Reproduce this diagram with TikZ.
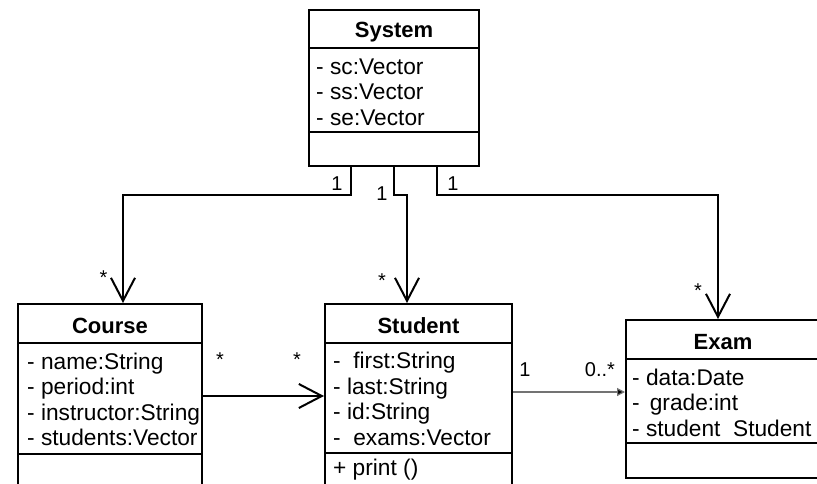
\documentclass[tikz,border=0pt]{standalone}
\usepackage{fontspec}
\setmainfont{Liberation Sans}
\usetikzlibrary{arrows.meta}

\newcommand\clsfont{\fontsize{22}{26}\selectfont\bfseries}
\newcommand\attrfont{\fontsize{22.7}{26}\selectfont}
\newcommand\multfont{\fontsize{20}{23}\selectfont}

\tikzset{
  classbox/.style={draw, line width=2pt, inner sep=0pt, fill=white},
  sepline/.style={line width=2pt},
  clsname/.style={font=\clsfont, inner sep=0pt, anchor=base},
  attr/.style={font=\attrfont, inner sep=0pt, anchor=base west},
  mult/.style={font=\multfont, inner sep=0pt, anchor=base},
  assoc/.style={line width=2pt, -{Straight Barb[length=23pt,width=24pt,line width=2pt]}},
  navig/.style={line width=1.2pt, draw=black!55, -{Triangle[length=8pt,width=8pt,fill=black]}},
}

\begin{document}
\begin{tikzpicture}[x=1pt,y=-1pt]
  \useasboundingbox (0,0) rectangle (817,483);
  \fill[white] (0,0) rectangle (817,483);
  \clip (0,0) rectangle (817,483);

  % --- System ---
  \node[classbox, minimum width=170pt, minimum height=156pt] (system) at (394,88) {};
  \draw[sepline] (system.west |- 0,48) -- (system.east |- 0,48);
  \draw[sepline] (system.west |- 0,132) -- (system.east |- 0,132);
  \node[clsname] (systitle) at (394,37) {System};
  \node[attr] (sys1) at (316,74) {- sc:Vector};
  \node[attr] (sys2) at (316,99) {- ss:Vector};
  \node[attr] (sys3) at (316,125) {- se:Vector};

  % --- Course ---
  \node[classbox, minimum width=184pt, minimum height=206pt] (course) at (110,407) {};
  \draw[sepline] (course.west |- 0,343) -- (course.east |- 0,343);
  \draw[sepline] (course.west |- 0,454) -- (course.east |- 0,454);
  \node[clsname] (coutitle) at (110,333) {Course};
  \node[attr] (cou1) at (27,369) {- name:String};
  \node[attr] (cou2) at (27,394) {- period:int};
  \node[attr] (cou3) at (27,420) {- instructor:String};
  \node[attr] (cou4) at (27,445) {- students:Vector};

  % --- Student ---
  \node[classbox, minimum width=187pt, minimum height=206pt] (student) at (418.5,407) {};
  \draw[sepline] (student.west |- 0,343) -- (student.east |- 0,343);
  \draw[sepline] (student.west |- 0,453) -- (student.east |- 0,453);
  \node[clsname] (stutitle) at (418.5,333) {Student};
  \node[attr] (stu1) at (333,368) {-\ \ first:String};
  \node[attr] (stu2) at (333,394) {- last:String};
  \node[attr] (stu3) at (333,419) {- id:String};
  \node[attr] (stu4) at (333,445) {-\ \ exams:Vector};
  \node[attr] (stu5) at (333,475) {+ print ()};

  % --- Exam ---
  \node[classbox, minimum width=194pt, minimum height=158pt] (exam) at (723,399) {};
  \draw[sepline] (exam.west |- 0,359) -- (exam.east |- 0,359);
  \draw[sepline] (exam.west |- 0,443) -- (exam.east |- 0,443);
  \node[clsname] (examtitle) at (723,349) {Exam};
  \node[attr] (exa1) at (632,385) {- data:Date};
  \node[attr] (exa2) at (632,410) {- \,grade:int};
  \node[attr] (exa3) at (632,436) {- student\ \ Student};

  % --- associations from System ---
  \coordinate (kA) at (123,195);
  \coordinate (kB) at (407,195);
  \coordinate (kC) at (718,195);
  \draw[assoc] (system.south -| 351,0) |- (kA) -- (course.north -| kA);
  \draw[assoc] (system.south -| 394,0) |- (kB) -- (student.north -| kB);
  \draw[assoc] (system.south -| 437,0) |- (kC) -- (exam.north -| kC);

  % --- Course to Student, Student to Exam ---
  \draw[assoc] (course.east |- 0,396) -- (student.west |- 0,396);
  \draw[navig] (student.east |- 0,392) -- (exam.west |- 0,392);

  % --- multiplicities ---
  \node[mult] (m1) at (337,190) {1};
  \node[mult] (m2) at (382,200) {1};
  \node[mult] (m3) at (453,190) {1};
  \node[mult] (m4) at (103.5,284) {*};
  \node[mult] (m5) at (382,287) {*};
  \node[mult] (m6) at (698,297) {*};
  \node[mult] (m7) at (220,366) {*};
  \node[mult] (m8) at (297,366) {*};
  \node[mult] (m9) at (525,376) {1};
  \node[mult] (m10) at (600,376) {0..*};
\end{tikzpicture}
\end{document}
